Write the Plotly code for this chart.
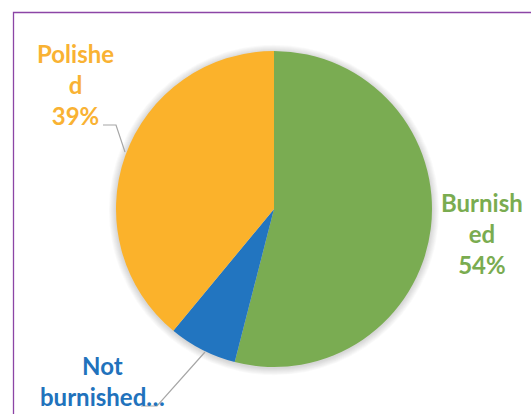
import plotly.graph_objects as go

# Surface finish shares
categories = ["Burnished", "Not burnished", "Polished"]
shares = [54, 7, 39]
colors = ["#7AAC52", "#2275C0", "#FBB22B"]
label_colors = ["#7AAC50", "#2172BC", "#F9B233"]
label_text = ["Burnish<br>ed<br>54%", "Not<br>burnished…", "Polishe<br>d<br>39%"]

W, H = 531, 414


def px(x):
    return x / W


def py(y):
    return 1 - y / H


cx, cy, r = 274, 209, 158

fig = go.Figure()
fig.add_trace(go.Pie(
    labels=categories,
    values=shares,
    sort=False,
    direction="clockwise",
    rotation=0,
    marker=dict(colors=colors, line=dict(width=0)),
    textinfo="none",
    hoverinfo="label+percent",
    showlegend=False,
    domain=dict(x=[px(cx - r), px(cx + r)], y=[py(cy + r), py(cy - r)]),
))

shapes = []
# soft halo around the pie
for k in range(1, 9):
    rr = r + k * 0.9
    shapes.append(dict(
        type="circle", xref="paper", yref="paper", layer="below",
        x0=px(cx - rr), x1=px(cx + rr), y0=py(cy + rr + 1), y1=py(cy - rr + 1),
        fillcolor="rgba(0,0,0,0.018)", line=dict(width=0),
    ))

# chart border
shapes.append(dict(
    type="rect", xref="paper", yref="paper",
    x0=px(13.5), x1=px(560), y0=py(440), y1=py(12.5),
    line=dict(color="#8C45A6", width=1.3), fillcolor="rgba(0,0,0,0)",
))


def leader(points):
    d = "M " + " L ".join(f"{px(x)},{py(y)}" for x, y in points)
    return dict(type="path", xref="paper", yref="paper", path=d,
                line=dict(color="#A6A6A6", width=1.2))


shapes.append(leader([(103, 125), (116, 125), (125, 152)]))
shapes.append(leader([(141, 406), (157, 406), (205, 352)]))

label_pos = [(482, 234), (102, 381), (75, 84)]
annotations = []
for txt, col, (x, y) in zip(label_text, label_colors, label_pos):
    annotations.append(dict(
        text=txt, x=px(x), y=py(y), xref="paper", yref="paper",
        xanchor="center", yanchor="middle", showarrow=False, align="center",
        font=dict(family="Lato", size=24, color=col, weight="bold"),
    ))

fig.update_layout(
    width=W, height=H,
    margin=dict(l=0, r=0, t=0, b=0),
    paper_bgcolor="white",
    plot_bgcolor="white",
    shapes=shapes,
    annotations=annotations,
)

fig.write_html("out.html")
